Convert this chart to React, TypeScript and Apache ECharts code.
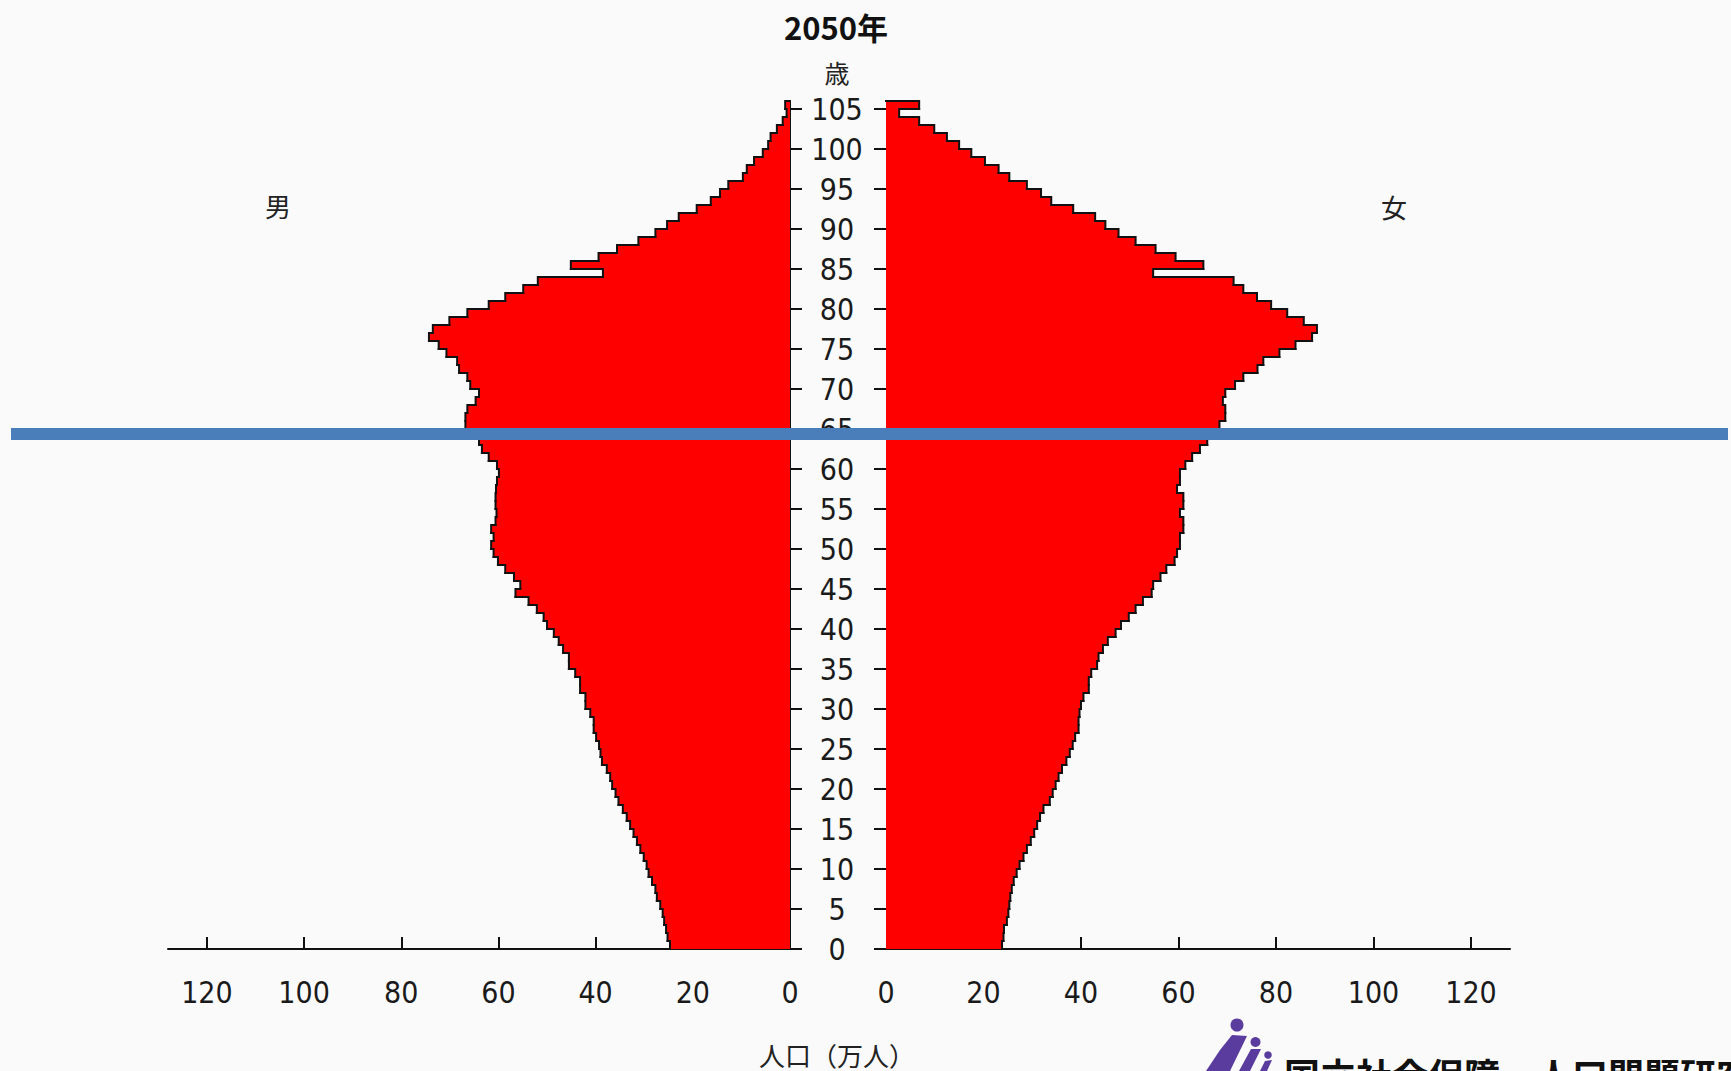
import React, { useEffect, useRef } from "react";
import * as echarts from "echarts";

// ---- DATA (万人) ----
const AGE_MIN = 0;
const AGE_MAX = 105;
const ages: number[] = Array.from({ length: AGE_MAX - AGE_MIN + 1 }, (_, i) => AGE_MIN + i);

// male population by single year of age 0..105
const maleValues: number[] = [
  24.7, 25.2, 25.5, 25.9, 26.2, 26.7, 27.4, 27.7, 28.4, 29.1,
  29.5, 30.1, 30.8, 31.5, 32.2, 32.9, 33.6, 34.4, 35.3, 35.9,
  36.6, 37.0, 37.7, 38.7, 39.0, 39.3, 39.9, 40.4, 40.4, 41.1,
  42.1, 42.1, 43.2, 43.2, 44.2, 45.5, 45.5, 46.7, 47.6, 48.6,
  50.0, 50.7, 52.1, 53.8, 56.5, 55.5, 56.8, 58.6, 60.1, 61.0,
  61.5, 61.0, 61.5, 60.6, 60.4, 60.6, 60.6, 60.5, 60.3, 59.9,
  60.3, 62.0, 63.4, 64.0, 65.8, 66.8, 66.8, 66.4, 64.7, 64.0,
  65.8, 66.4, 68.1, 68.5, 70.7, 72.3, 74.3, 73.5, 70.1, 66.4,
  62.0, 58.6, 54.9, 51.9, 38.5, 45.1, 39.4, 35.6, 31.2, 27.7,
  25.3, 22.9, 19.2, 16.3, 14.4, 12.7, 9.7, 8.9, 7.4, 5.6,
  4.5, 4.0, 2.7, 1.5, 0.7, 1.0,
];

// female population by single year of age 0..105
const femaleValues: number[] = [
  23.8, 24.1, 24.2, 24.8, 25.1, 25.3, 25.5, 25.8, 26.2, 26.8,
  27.4, 28.2, 28.9, 29.7, 30.4, 31.0, 31.6, 32.3, 33.6, 34.2,
  34.8, 35.4, 36.1, 37.0, 37.7, 38.3, 38.8, 39.5, 39.5, 39.7,
  40.0, 40.5, 41.6, 41.6, 42.1, 43.3, 43.6, 44.5, 45.5, 47.1,
  48.2, 49.8, 51.2, 52.7, 54.5, 54.8, 56.3, 57.5, 59.2, 59.7,
  60.3, 60.3, 61.0, 61.0, 60.3, 61.0, 61.0, 59.7, 60.3, 60.3,
  61.4, 62.8, 64.4, 65.9, 67.0, 68.4, 69.6, 69.6, 69.1, 69.6,
  71.6, 73.3, 76.2, 77.4, 80.7, 84.0, 87.4, 88.4, 85.7, 82.3,
  79.0, 76.1, 73.3, 71.3, 54.8, 65.1, 59.4, 55.3, 51.2, 47.7,
  45.0, 42.9, 38.4, 33.9, 31.8, 28.9, 25.3, 23.1, 20.3, 17.5,
  15.0, 12.5, 9.9, 6.8, 2.7, 6.8,
];

const popLabelTicks: number[] = [0, 20, 40, 60, 80, 100, 120];
const popTickMarks: number[] = [20, 40, 60, 80, 100, 120];
const ageTicks: number[] = [0, 5, 10, 15, 20, 25, 30, 35, 40, 45, 50, 55, 60, 65, 70, 75, 80, 85, 90, 95, 100, 105];

const TITLE = "2050年";
const AGE_UNIT = "歳";
const MALE_LABEL = "男";
const FEMALE_LABEL = "女";
const X_NAME = "人口（万人）";
const LOGO_TEXT = "国立社会保障・人口問題研究所";

const NUM_FONT = '"Liberation Sans Narrow", "DejaVu Sans Condensed", "Noto Sans", sans-serif';
const CJK_FONT = '"Noto Sans CJK JP", "Noto Sans", sans-serif';

function makeRender(values: number[]) {
  return (params: any, api: any) => {
    const i = params.dataIndex;
    const v = api.value(0);
    const a = api.value(1);
    const p0 = api.coord([0, a]);
    const p1 = api.coord([v, a + 1]);
    const next = i + 1 < values.length ? values[i + 1] : 0;
    const pn = api.coord([next, a + 1]);
    const x = Math.min(p0[0], p1[0]);
    const w = Math.abs(p1[0] - p0[0]);
    return {
      type: "group",
      children: [
        {
          type: "rect",
          shape: { x, y: p1[1], width: w, height: p0[1] - p1[1] },
          style: { fill: "#ff0000" },
          z2: 1,
        },
        {
          type: "polyline",
          shape: {
            points: [
              [p1[0], p0[1]],
              [p1[0], p1[1]],
              [pn[0], pn[1]],
            ],
          },
          style: { stroke: "#111", lineWidth: 2, fill: null, lineCap: "square", lineJoin: "miter" },
          z2: 10,
        },
      ],
    };
  };
}

function xAxisCfg(gridIndex: number, inverse: boolean) {
  return {
    type: "value",
    gridIndex,
    inverse,
    min: 0,
    max: 128,
    axisLine: { show: true, onZero: false, lineStyle: { color: "#111", width: 2 } },
    axisTick: {
      show: true,
      inside: true,
      length: 12,
      customValues: popTickMarks,
      lineStyle: { color: "#111", width: 2 },
    },
    axisLabel: {
      customValues: popLabelTicks,
      margin: 28,
      fontSize: 30,
      fontFamily: NUM_FONT,
      color: "#1a1a1a",
    },
    splitLine: { show: false },
  };
}

export default function App() {
  const ref = useRef<HTMLDivElement>(null);

  useEffect(() => {
    document.body.style.margin = "0";
    document.body.style.background = "#fafafa";
    if (!ref.current) return;
    const chart = echarts.init(ref.current, undefined, { renderer: "svg" });

    const logoColor = "#5a3c9e";

    const option: any = {
      animation: false,
      backgroundColor: "#fafafa",
      grid: [
        { left: 168, width: 622, top: 101, height: 848, containLabel: false, outerBoundsMode: "none" },
        { left: 886, width: 624, top: 101, height: 848, containLabel: false, outerBoundsMode: "none" },
      ],
      xAxis: [xAxisCfg(0, true), xAxisCfg(1, false)],
      yAxis: [
        {
          type: "value",
          gridIndex: 0,
          min: 0,
          max: 106,
          position: "right",
          axisLine: { show: true, onZero: false, lineStyle: { color: "#111", width: 2 } },
          axisTick: { show: true, length: 12, customValues: ageTicks, lineStyle: { color: "#111", width: 2 } },
          axisLabel: {
            customValues: ageTicks,
            align: "center",
            margin: 47,
            fontSize: 30,
            fontFamily: NUM_FONT,
            color: "#1a1a1a",
          },
          splitLine: { show: false },
        },
        {
          type: "value",
          gridIndex: 1,
          min: 0,
          max: 106,
          position: "left",
          axisLine: { show: false, onZero: false },
          axisTick: { show: true, length: 12, customValues: ageTicks, lineStyle: { color: "#111", width: 2 } },
          axisLabel: { show: false },
          splitLine: { show: false },
        },
      ],
      series: [
        {
          type: "custom",
          name: MALE_LABEL,
          xAxisIndex: 0,
          yAxisIndex: 0,
          clip: false,
          data: maleValues.map((v, i) => [v, ages[i]]),
          renderItem: makeRender(maleValues),
        },
        {
          type: "custom",
          name: FEMALE_LABEL,
          xAxisIndex: 1,
          yAxisIndex: 1,
          clip: false,
          data: femaleValues.map((v, i) => [v, ages[i]]),
          renderItem: makeRender(femaleValues),
        },
      ],
      graphic: [
        {
          type: "text",
          x: 836,
          y: 26,
          style: {
            text: TITLE,
            fontSize: 31,
            fontWeight: "bold",
            fontFamily: CJK_FONT,
            fill: "#111",
            align: "center",
            verticalAlign: "middle",
          },
        },
        {
          type: "text",
          x: 837,
          y: 72,
          style: { text: AGE_UNIT, fontSize: 25, fontFamily: CJK_FONT, fill: "#222", align: "center", verticalAlign: "middle" },
        },
        {
          type: "text",
          x: 278,
          y: 205,
          style: { text: MALE_LABEL, fontSize: 26, fontFamily: CJK_FONT, fill: "#222", align: "center", verticalAlign: "middle" },
        },
        {
          type: "text",
          x: 1394,
          y: 206,
          style: { text: FEMALE_LABEL, fontSize: 26, fontFamily: CJK_FONT, fill: "#222", align: "center", verticalAlign: "middle" },
        },
        {
          type: "text",
          x: 837,
          y: 1054,
          style: { text: X_NAME, fontSize: 26, fontFamily: CJK_FONT, fill: "#222", align: "center", verticalAlign: "middle" },
        },
        // logo
        { type: "circle", shape: { cx: 1237, cy: 1025, r: 6.5 }, style: { fill: logoColor } },
        { type: "circle", shape: { cx: 1255.5, cy: 1042, r: 5 }, style: { fill: logoColor } },
        { type: "circle", shape: { cx: 1268, cy: 1055, r: 3.8 }, style: { fill: logoColor } },
        {
          type: "polygon",
          shape: { points: [[1232, 1035], [1247, 1036], [1230, 1071], [1206, 1071], [1220, 1050]] },
          style: { fill: logoColor },
        },
        {
          type: "polygon",
          shape: { points: [[1251, 1049], [1261, 1049], [1250, 1071], [1239, 1071]] },
          style: { fill: logoColor },
        },
        {
          type: "polygon",
          shape: { points: [[1265, 1061], [1272, 1060], [1267, 1071], [1260, 1071]] },
          style: { fill: logoColor },
        },
        {
          type: "text",
          x: 1284,
          y: 1056,
          style: { text: LOGO_TEXT, fontSize: 36, fontWeight: "bold", fontFamily: CJK_FONT, fill: "#111", align: "left", verticalAlign: "top" },
        },
        // overlay line
        {
          type: "rect",
          z: 100,
          shape: { x: 11, y: 428, width: 1717, height: 12 },
          style: { fill: "#4a7ebb" },
        },
      ],
    };

    chart.setOption(option);
    return () => chart.dispose();
  }, []);

  return (
    <div
      ref={ref}
      style={{ position: "fixed", left: 0, top: 0, width: 1731, height: 1071, background: "#fafafa" }}
    />
  );
}
